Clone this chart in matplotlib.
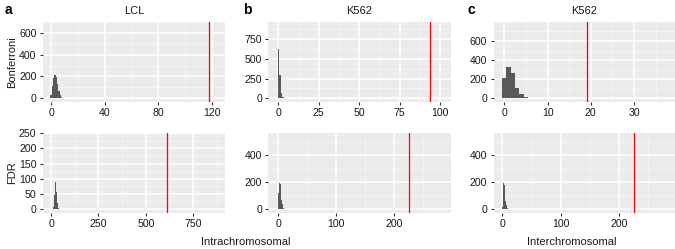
import matplotlib
matplotlib.use("Agg")
import matplotlib.pyplot as plt
import numpy as np

plt.rcParams['font.family'] = ['Liberation Sans', 'DejaVu Sans']

# ---- data (histogram bin centres and counts, threshold lines) ----
lcl_bonf_x = [0, 1, 2, 3, 4, 5, 6, 7, 8, 9, 10, 11]
lcl_bonf_y = [25, 110, 190, 210, 195, 130, 70, 30, 12, 6, 3, 1]
lcl_bonf_obs = 118

k562_bonf_x = [0, 1, 2, 3, 4]
k562_bonf_y = [620, 290, 70, 15, 3]
k562_bonf_obs = 93.6

k562i_bonf_x = [0, 1, 2, 3, 4, 5, 6]
k562i_bonf_y = [215, 330, 270, 110, 45, 12, 5]
k562i_bonf_obs = 19.1

lcl_fdr_x = [15, 20, 25, 30, 35, 40]
lcl_fdr_y = [8, 45, 90, 55, 20, 5]
lcl_fdr_obs = 613

k562_fdr_x = [0, 1, 2, 3, 4, 5, 6, 7, 8, 9, 10, 11, 12]
k562_fdr_y = [15, 120, 190, 220, 185, 120, 65, 35, 18, 9, 5, 2, 1]
k562_fdr_obs = 226

k562i_fdr_x = [0, 1, 2, 3, 4, 5, 6, 7, 8, 9, 10, 11]
k562i_fdr_y = [15, 125, 195, 225, 180, 115, 60, 30, 15, 8, 4, 2]
k562i_fdr_obs = 226

panel_letters = ['a', 'b', 'c']
titles = ['LCL', 'K562', 'K562']
row_labels = ['Bonferroni', 'FDR']

W, H = 675, 249
fig = plt.figure(figsize=(W / 100, H / 100), dpi=100)


def add_ax(l, r, t, b):
    return fig.add_axes([l / W, 1 - b / H, (r - l) / W, (b - t) / H])


def style(ax, xlim, ylim, xmaj, ymaj):
    ax.set_facecolor('#EBEBEB')
    ax.set_xlim(*xlim)
    ax.set_ylim(*ylim)
    ax.set_xticks(xmaj)
    ax.set_yticks(ymaj)
    xm = [(a + b) / 2 for a, b in zip(xmaj[:-1], xmaj[1:])]
    ym = [(a + b) / 2 for a, b in zip(ymaj[:-1], ymaj[1:])]
    dx = xmaj[1] - xmaj[0]
    dy = ymaj[1] - ymaj[0]
    xm += [xmaj[-1] + dx / 2, xmaj[0] - dx / 2]
    ym += [ymaj[-1] + dy / 2, ymaj[0] - dy / 2]
    for v in xm:
        if xlim[0] < v < xlim[1]:
            ax.axvline(v, color='#F7F7F7', lw=0.5, zorder=0.5)
    for v in ym:
        if ylim[0] < v < ylim[1]:
            ax.axhline(v, color='#F7F7F7', lw=0.5, zorder=0.5)
    for v in xmaj:
        ax.axvline(v, color='white', lw=1.1, zorder=0.6)
    for v in ymaj:
        ax.axhline(v, color='white', lw=1.1, zorder=0.6)
    for s in ax.spines.values():
        s.set_visible(False)
    ax.tick_params(length=2.5, width=0.8, color='#333333', labelsize=7.6,
                   labelcolor='#1A1A1A', pad=2)


def hist(ax, xs, ys, w, obs):
    ax.bar(xs, ys, width=w, color='#595959', zorder=2, linewidth=0)
    ax.axvline(obs, color='#FF0000', lw=0.9, zorder=3)


top = (22, 102)
bot = (132.7, 212.7)
cols = [(42.7, 225), (268.3, 450.7), (493.5, 675)]

ax = add_ax(cols[0][0], cols[0][1], *top)
style(ax, (-6.2, 129.7), (-35, 702), [0, 40, 80, 120], [0, 200, 400, 600])
hist(ax, lcl_bonf_x, lcl_bonf_y, 1.0, lcl_bonf_obs)

ax = add_ax(cols[1][0], cols[1][1], *top)
style(ax, (-6.2, 106.6), (-46, 963), [0, 25, 50, 75, 100], [0, 250, 500, 750])
hist(ax, k562_bonf_x, k562_bonf_y, 1.0, k562_bonf_obs)

ax = add_ax(cols[2][0], cols[2][1], *top)
style(ax, (-2.5, 39.5), (-38, 798), [0, 10, 20, 30], [0, 200, 400, 600])
hist(ax, k562i_bonf_x, k562i_bonf_y, 1.0, k562i_bonf_obs)

ax = add_ax(cols[0][0], cols[0][1], *bot)
style(ax, (-44, 917), (-12, 252), [0, 250, 500, 750], [0, 50, 100, 150, 200, 250])
hist(ax, lcl_fdr_x, lcl_fdr_y, 5.0, lcl_fdr_obs)

ax = add_ax(cols[1][0], cols[1][1], *bot)
style(ax, (-17, 297), (-28, 568), [0, 100, 200], [0, 200, 400])
hist(ax, k562_fdr_x, k562_fdr_y, 1.0, k562_fdr_obs)

ax = add_ax(cols[2][0], cols[2][1], *bot)
style(ax, (-15, 296), (-28, 568), [0, 100, 200], [0, 200, 400])
hist(ax, k562i_fdr_x, k562i_fdr_y, 1.0, k562i_fdr_obs)

# titles, panel letters
letter_x = [5, 243, 468]
title_x = [134, 359, 584]
for lx, tx, let, ttl in zip(letter_x, title_x, panel_letters, titles):
    fig.text(lx / W, 1 - 10 / H, let, fontsize=10, fontweight='bold',
             ha='left', va='center', color='black')
    fig.text(tx / W, 1 - 11 / H, ttl, fontsize=8, ha='center', va='center',
             color='#1A1A1A')

fig.text(12 / W, 1 - 62 / H, row_labels[0], rotation=90, fontsize=8,
         ha='center', va='center', color='#1A1A1A')
fig.text(12 / W, 1 - 172.7 / H, row_labels[1], rotation=90, fontsize=8,
         ha='center', va='center', color='#1A1A1A')
fig.text(246 / W, 1 - 241.5 / H, 'Intrachromosomal', fontsize=8,
         ha='center', va='center', color='#1A1A1A')
fig.text(571.5 / W, 1 - 241.5 / H, 'Interchromosomal', fontsize=8,
         ha='center', va='center', color='#1A1A1A')

fig.savefig('out.png', dpi=100, facecolor='white')
